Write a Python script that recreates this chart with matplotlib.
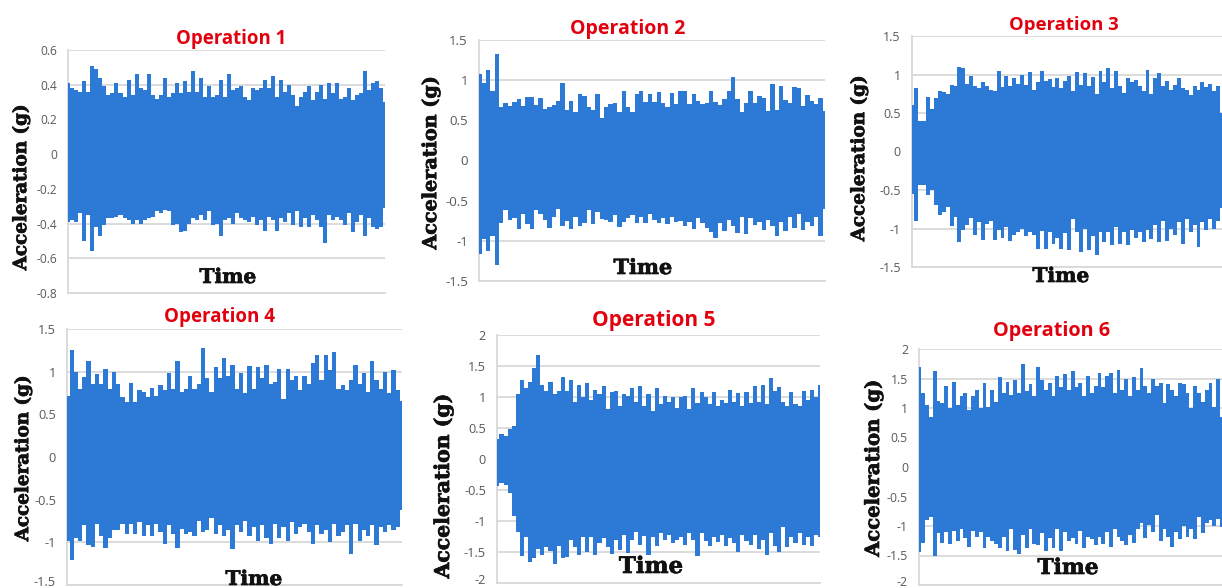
import numpy as np
import matplotlib
matplotlib.use('Agg')
import matplotlib.pyplot as plt
import matplotlib.patheffects as pe
from matplotlib.transforms import ScaledTranslation

W, H = 1222, 588
BLUE = '#2D79D6'
GRID = '#D9D9D9'
GREY = '#595959'
RED = '#E2000F'

# envelope of each record left to right
op1_up = [.41,.38,.37,.36,.42,.36,.51,.49,.44,.39,.34,.35,.41,.35,.33,.43,.34,.46,.38,.37,
          .46,.34,.32,.34,.44,.33,.35,.41,.35,.42,.36,.48,.36,.44,.33,.39,.33,.34,.43,.33,
          .46,.37,.38,.39,.33,.31,.38,.37,.38,.43,.38,.45,.33,.43,.36,.40,.34,.28,.33,.36,
          .39,.31,.36,.40,.32,.41,.35,.41,.32,.33,.38,.31,.34,.35,.48,.37,.41,.42,.38,.30]
op1_lo = [-.39,-.38,-.39,-.34,-.50,-.35,-.56,-.42,-.47,-.41,-.37,-.37,-.36,-.35,-.37,-.38,-.40,-.38,-.40,-.38,
          -.37,-.36,-.33,-.34,-.32,-.33,-.41,-.40,-.45,-.44,-.40,-.37,-.38,-.35,-.38,-.33,-.41,-.40,-.47,-.38,
          -.37,-.40,-.34,-.37,-.38,-.39,-.36,-.41,-.38,-.44,-.36,-.38,-.44,-.37,-.39,-.34,-.41,-.33,-.42,-.37,
          -.42,-.35,-.38,-.42,-.51,-.35,-.38,-.36,-.38,-.41,-.34,-.45,-.39,-.35,-.47,-.37,-.42,-.43,-.42,-.31]

op2_up = [1.08,.97,1.13,.87,1.33,.66,.72,.68,.73,.77,.68,.79,.79,.69,.78,.64,.66,.69,.74,.97,
          .63,.74,.60,.83,.80,.67,.63,.83,.53,.66,.70,.72,.60,.86,.66,.60,.83,.87,.73,.83,
          .73,.85,.72,.66,.84,.70,.87,.86,.70,.83,.74,.70,.72,.86,.73,.69,.76,.86,1.04,.77,
          .60,.72,.87,.72,.80,.78,.62,.95,.63,.93,.75,.72,.92,.90,.68,.82,.74,.70,.78,.61]
op2_lo = [-1.16,-.98,-1.13,-.94,-1.30,-.78,-.62,-.74,-.72,-.85,-.67,-.79,-.85,-.62,-.66,-.74,-.84,-.70,-.60,-.82,
          -.75,-.85,-.70,-.82,-.78,-.62,-.79,-.64,-.73,-.74,-.76,-.68,-.83,-.76,-.72,-.68,-.78,-.70,-.78,-.66,
          -.74,-.78,-.72,-.79,-.70,-.76,-.75,-.82,-.76,-.85,-.72,-.78,-.84,-.89,-.96,-.78,-.88,-.74,-.82,-.90,
          -.70,-.92,-.72,-.80,-.76,-.86,-.74,-.82,-.94,-.76,-.88,-.70,-.84,-.66,-.86,-.76,-.82,-.70,-.94,-.60]

op3_up = [.61,.82,.40,.39,.71,.55,.69,.78,.77,.75,.86,.85,1.10,1.09,.88,.98,.85,.82,.90,.85,
          .80,.78,1.05,.84,.98,.85,.95,.88,1.00,.86,1.03,.80,.90,1.04,.92,.94,.84,.96,.82,.92,
          .98,.78,1.03,.87,1.02,.85,.97,.75,1.05,.90,1.08,.82,1.05,.85,.76,.95,.90,.93,.85,.78,
          1.06,.75,.95,1.02,.85,.92,.80,.87,.95,.82,.80,.73,.85,.80,.90,.84,.88,.78,.85,.50]
op3_lo = [-.55,-.90,-.44,-.43,-.56,-.50,-.70,-.82,-.78,-.72,-.97,-.85,-1.18,-1.02,-.96,-.86,-1.08,-.92,-1.15,-.94,
          -.90,-1.15,-1.02,-1.12,-.98,-1.16,-1.08,-1.05,-1.00,-1.10,-1.05,-1.08,-1.27,-1.03,-1.26,-1.05,-1.20,-1.12,-1.26,-1.06,
          -1.28,-.88,-1.05,-1.30,-1.00,-1.28,-1.10,-1.34,-1.04,-1.18,-1.05,-1.22,-.98,-1.20,-1.05,-1.22,-1.02,-1.12,-1.05,-1.18,
          -1.02,-1.14,-.95,-1.18,-.90,-1.16,-1.00,-1.08,-.92,-1.20,-.88,-1.05,-.95,-1.24,-.92,-1.02,-.88,-1.00,-.90,-.74]

op4_up = [.72,1.25,1.00,.80,.94,1.13,.85,.97,.85,1.03,.80,1.00,.85,.70,.64,.87,.65,.79,.76,.70,
          .81,.72,.84,.78,.99,.80,1.13,.76,.80,.95,.80,.85,1.28,.92,.76,1.05,.92,1.16,.95,1.08,
          .80,.98,.75,1.07,.80,1.05,.92,1.08,.85,.88,1.03,.68,1.03,.90,.95,.78,.95,.85,1.10,1.20,
          .90,1.20,1.02,1.23,.80,.84,.78,.90,1.08,.85,.98,.76,1.12,.90,.80,1.00,.75,1.02,.78,.66]
op4_lo = [-.98,-1.21,-.95,-.98,-.80,-1.03,-1.05,-.78,-.92,-1.07,-.95,-.85,-.85,-.78,-.90,-.78,-.90,-.76,-.92,-.80,
          -.92,-.78,-.88,-1.02,-.80,-.90,-1.07,-.84,-.90,-.88,-.92,-.75,-.88,-.85,-.72,-.90,-.80,-.92,-.86,-1.08,
          -.80,-.88,-.75,-.92,-.82,-.98,-.80,-.95,-1.02,-.78,-.95,-.82,-.98,-.76,-.90,-.82,-.78,-.88,-1.02,-.80,
          -.90,-.85,-1.00,-.78,-.92,-.88,-.80,-1.14,-.78,-.98,-.85,-.92,-.80,-1.03,-.82,-.88,-.80,-.85,-.82,-.62]

op5_up = [.33,.40,.37,.48,.54,1.05,1.28,1.15,1.25,1.46,1.68,1.20,1.10,1.25,1.05,1.10,1.32,1.10,1.28,.92,
          1.20,1.00,1.22,.95,1.12,1.05,1.18,.80,1.08,1.10,.85,1.05,1.02,1.15,.92,1.18,.85,1.05,.78,1.14,
          .88,1.02,.92,1.00,.82,1.00,1.02,.80,1.14,.90,1.08,1.00,.88,1.08,.85,.95,.90,1.12,.92,1.06,
          .85,1.08,.90,1.18,.92,1.20,.88,1.30,1.10,1.16,.92,.85,1.08,.88,.85,1.10,.95,1.12,1.00,1.20]
op5_lo = [-.44,-.38,-.42,-.55,-.92,-1.18,-1.56,-1.25,-1.66,-1.60,-1.45,-1.55,-1.42,-1.48,-1.70,-1.40,-1.60,-1.58,-1.30,-1.42,
          -1.55,-1.25,-1.50,-1.25,-1.55,-1.35,-1.28,-1.42,-1.54,-1.30,-1.46,-1.22,-1.52,-1.30,-1.18,-1.38,-1.24,-1.55,-1.26,-1.40,
          -1.20,-1.30,-1.22,-1.36,-1.30,-1.25,-1.38,-1.20,-1.30,-1.56,-1.20,-1.32,-1.40,-1.26,-1.34,-1.22,-1.40,-1.28,-1.36,-1.50,
          -1.22,-1.32,-1.38,-1.22,-1.45,-1.30,-1.55,-1.20,-1.40,-1.50,-1.10,-1.42,-1.25,-1.35,-1.20,-1.38,-1.25,-1.40,-1.22,-1.25]

op6_up = [1.70,1.25,1.05,.85,1.62,1.12,1.08,1.37,1.00,1.44,1.05,1.20,1.25,.97,1.20,1.30,1.00,1.42,1.02,1.30,
          1.10,1.53,1.25,1.44,1.22,1.48,1.26,1.75,1.28,1.40,1.20,1.70,1.48,1.30,1.42,1.20,1.55,1.35,1.58,1.30,
          1.62,1.35,1.42,1.20,1.55,1.25,1.38,1.60,1.36,1.55,1.60,1.25,1.65,1.30,1.50,1.20,1.52,1.30,1.67,1.38,
          1.25,1.50,1.38,1.42,1.08,1.40,1.30,1.20,1.42,1.40,1.25,1.00,1.38,1.25,1.10,1.30,1.42,1.02,1.50,.85]
op6_lo = [-1.44,-1.28,-.90,-.85,-1.50,-1.12,-1.28,-1.10,-1.30,-1.08,-1.25,-1.05,-1.20,-1.35,-1.08,-1.18,-1.10,-1.38,-1.18,-1.25,
          -1.30,-1.38,-1.18,-1.42,-1.05,-1.40,-1.48,-1.15,-1.38,-1.05,-1.30,-1.32,-1.12,-1.42,-1.20,-1.38,-1.05,-1.42,-1.10,-1.25,
          -1.20,-1.30,-1.08,-1.38,-1.18,-1.22,-1.32,-1.18,-1.30,-1.10,-1.35,-1.05,-1.18,-1.25,-1.32,-1.15,-1.28,-1.05,-.95,-1.20,
          -.98,-1.10,-.82,-1.25,-1.05,-1.18,-1.36,-1.10,-1.22,-1.00,-1.18,-1.05,-1.22,-.85,-1.12,-.95,-.90,-1.00,-.88,-1.02]

ticks12 = [0.6, 0.4, 0.2, 0, -0.2, -0.4, -0.6, -0.8]
ticks15 = [1.5, 1, 0.5, 0, -0.5, -1, -1.5]
ticks20 = [2, 1.5, 1, 0.5, 0, -0.5, -1, -1.5, -2]

# title, upper, lower, ticks, axes box in px (left, right, top, bottom), tick size
panels = [
    ('Operation 1', op1_up, op1_lo, ticks12, (68, 385, 50, 293), 8.6),
    ('Operation 2', op2_up, op2_lo, ticks15, (479, 825, 40, 281), 9.5),
    ('Operation 3', op3_up, op3_lo, ticks15, (912, 1222, 36, 267), 9.0),
    ('Operation 4', op4_up, op4_lo, ticks15, (67, 402, 329, 585), 9.2),
    ('Operation 5', op5_up, op5_lo, ticks20, (497, 820, 335, 583), 9.2),
    ('Operation 6', op6_up, op6_lo, ticks20, (919, 1222, 349, 585), 8.8),
]
# text centres in px and sizes: title, y label, Time
labels = [
    ((231, 39, 13.4), (21, 187, 13.2), (228, 277, 14.5)),
    ((628, 29, 14.0), (431, 163, 13.8), (643, 268, 15.0)),
    ((1064, 25, 13.3), (859, 158, 13.2), (1061, 276, 14.5)),
    ((220, 317, 13.5), (23, 458, 13.2), (254, 579, 14.5)),
    ((654, 320, 15.0), (443, 486, 14.7), (651, 567, 16.4)),
    ((1052, 331, 14.3), (873, 468, 14.1), (1068, 568, 15.6)),
]


def fx(px):
    return px / W


def fy(px):
    return 1 - px / H


fig = plt.figure(figsize=(W / 100, H / 100), dpi=100)
heavy = [pe.withStroke(linewidth=0.5, foreground='#111111')]

for (title, up, lo, ticks, box, ts), (t_xy, y_xy, x_xy) in zip(panels, labels):
    l, r, t, b = box
    ax = fig.add_axes([fx(l), fy(b), (r - l) / W, (b - t) / H])
    xs = np.arange(len(up))
    # blocky columns between the peaks, same look as the dense trace
    ax.fill_between(xs, lo, up, step='mid', color=BLUE, lw=0, zorder=3)
    ax.set_xlim(-0.1, len(up) - 1)
    ax.set_ylim(min(ticks), max(ticks))
    ax.set_yticks(ticks)
    ax.set_yticklabels([str(v) for v in ticks], fontsize=ts, color=GREY, family='Open Sans')
    ax.set_xticks([])
    ax.tick_params(axis='y', length=0, pad=8)
    ax.grid(axis='y', color=GRID, lw=1.3, zorder=0)
    ax.set_axisbelow(True)
    for s in ['top', 'right']:
        ax.spines[s].set_visible(False)
    for s in ['left', 'bottom']:
        ax.spines[s].set_color(GRID)
        ax.spines[s].set_linewidth(1.3)
    # lowest label sits on the picture's bottom edge, nudge it up to stay whole
    if b >= 583:
        low = ax.get_yticklabels()[-1]
        low.set_transform(low.get_transform() + ScaledTranslation(0, 4 / 100, fig.dpi_scale_trans))

    fig.text(fx(t_xy[0]), fy(t_xy[1]), title, color=RED, fontsize=t_xy[2], fontweight='bold',
             family='Open Sans', ha='center', va='center')
    fig.text(fx(y_xy[0]), fy(y_xy[1]), 'Acceleration (g)', rotation=90, fontsize=y_xy[2],
             fontweight='bold', family='DejaVu Serif', ha='center', va='center', color='#111111',
             path_effects=heavy)
    fig.text(fx(x_xy[0]), fy(x_xy[1]), 'Time', fontsize=x_xy[2], fontweight='bold',
             family='DejaVu Serif', ha='center', va='center', color='#111111', path_effects=heavy)

fig.savefig('out.png', dpi=100)
